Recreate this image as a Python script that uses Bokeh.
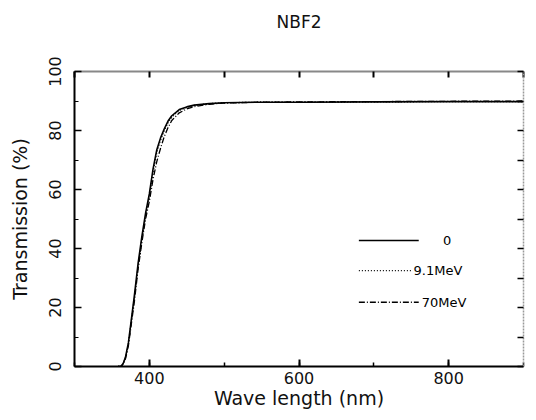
from bokeh.plotting import figure
from bokeh.models import Range1d, LinearAxis, FixedTicker
from bokeh.embed import file_html
from bokeh.resources import INLINE
from bokeh.core.properties import value

# ---- data ----
title_text = "NBF2"
wavelength = [358, 362, 365, 368, 372, 376, 380, 385, 390, 395, 400, 405, 410, 415,
              420, 425, 430, 440, 450, 460, 480, 500, 550, 600, 700, 800, 900]
t_0 = [0, 0, 1.0, 3.0, 8.0, 16.0, 24.0, 35.0, 44.0, 52.0, 58.5, 67.0, 73.5, 77.5,
       80.6, 83.2, 85.0, 87.1, 88.0, 88.6, 89.1, 89.4, 89.6, 89.6, 89.7, 89.8, 89.8]
t_9_1MeV = [0, 0, 0.9, 2.8, 7.5, 15.5, 23.0, 34.0, 43.0, 51.0, 57.5, 66.0, 72.5, 76.7,
            80.0, 82.6, 84.5, 86.8, 87.8, 88.5, 89.1, 89.4, 89.6, 89.6, 89.7, 89.8, 89.8]
t_70MeV = [0, 0, 0.8, 2.5, 7.0, 14.5, 22.0, 33.0, 42.0, 50.0, 56.0, 63.5, 69.5, 74.0,
           78.0, 81.0, 83.4, 86.0, 87.3, 88.1, 88.9, 89.3, 89.6, 89.7, 89.8, 89.9, 90.0]

series_labels = ["0", "9.1MeV", "70MeV"]
legend_y = [42.7, 32.5, 21.8]
legend_line_start = [680, 680, 680]
legend_line_end = [760, 750, 760]
legend_text_x = [798, 753, 764]
legend_text_align = ["center", "left", "left"]
legend_dash = ["solid", "1 2", "6 2 1 2"]

x_major = [400, 600, 800]
x_minor = [300, 400, 500, 600, 700, 800, 900]
y_major = [0, 20, 40, 60, 80, 100]
y_minor = [10, 30, 50, 70, 90]
y_all = [0, 10, 20, 30, 40, 50, 60, 70, 80, 90, 100]

FONT = "DejaVu Sans"
TXT = "#111111"

p = figure(frame_width=449, frame_height=295,
           x_range=Range1d(300, 900), y_range=Range1d(0, 100),
           output_backend="svg", toolbar_location=None,
           min_border_left=74, min_border_right=4,
           min_border_top=71, min_border_bottom=46)
p.grid.visible = False
p.outline_line_color = None
p.background_fill_color = "white"
p.border_fill_color = "white"

# bottom axis
xa = p.xaxis[0]
xa.ticker = FixedTicker(ticks=x_major, minor_ticks=x_minor)
xa.axis_label = "Wave length (nm)"
xa.axis_label_text_font = FONT
xa.axis_label_text_font_size = "19px"
xa.axis_label_text_font_style = "normal"
xa.axis_label_text_color = TXT
xa.axis_label_standoff = 0
xa.major_label_text_font = FONT
xa.major_label_text_font_size = "16px"
xa.major_label_text_color = TXT
xa.major_label_standoff = 5
xa.axis_line_width = 2
xa.axis_line_color = "black"
xa.major_tick_in = 7
xa.major_tick_out = 0
xa.minor_tick_in = 4
xa.minor_tick_out = 0
xa.major_tick_line_width = 2
xa.minor_tick_line_width = 1.5

# left axis
ya = p.yaxis[0]
ya.ticker = FixedTicker(ticks=y_major, minor_ticks=y_minor)
ya.axis_label = "Transmission (%)"
ya.axis_label_text_font = FONT
ya.axis_label_text_font_size = "19px"
ya.axis_label_text_font_style = "normal"
ya.axis_label_text_color = TXT
ya.axis_label_standoff = 15
ya.major_label_text_font = FONT
ya.major_label_text_font_size = "16px"
ya.major_label_text_color = TXT
ya.major_label_orientation = "vertical"
ya.major_label_standoff = 14
ya.axis_line_width = 2
ya.axis_line_color = "black"
ya.major_tick_in = 7
ya.major_tick_out = 0
ya.minor_tick_in = 4
ya.minor_tick_out = 0
ya.major_tick_line_width = 1.5

# top frame axis: tick marks only, carries the chart title as its label
top = LinearAxis(ticker=FixedTicker(ticks=[], minor_ticks=x_minor),
                 minor_tick_in=6, minor_tick_out=0, minor_tick_line_width=2,
                 axis_line_color="#888888", axis_line_width=2,
                 axis_label=title_text, axis_label_text_font=FONT,
                 axis_label_text_font_size="17px", axis_label_text_font_style="normal",
                 axis_label_text_color=TXT, axis_label_standoff=40)
p.add_layout(top, "above")
right = LinearAxis(ticker=FixedTicker(ticks=[], minor_ticks=y_all),
                   minor_tick_in=6, minor_tick_out=0, minor_tick_line_width=1.5,
                   axis_line_color="#999999", axis_line_width=1.5,
                   axis_line_dash="2 1")
p.add_layout(right, "right")

# curves
p.line(wavelength, t_0, line_color="black", line_width=1.6)
p.line(wavelength, t_9_1MeV, line_color="black", line_width=1.3, line_dash="1 2")
p.line(wavelength, t_70MeV, line_color="black", line_width=1.3, line_dash="6 2 1 2")

# legend drawn inside the plot
for i, lab in enumerate(series_labels):
    p.line([legend_line_start[i], legend_line_end[i]], [legend_y[i], legend_y[i]],
           line_color="black", line_width=1.4, line_dash=legend_dash[i])
    p.text(x=[legend_text_x[i]], y=[legend_y[i]], text=[lab],
           text_font=value(FONT), text_font_size="13px",
           text_align=legend_text_align[i], text_baseline="middle",
           text_color="black")

open("out.html", "w").write(file_html(p, INLINE))
